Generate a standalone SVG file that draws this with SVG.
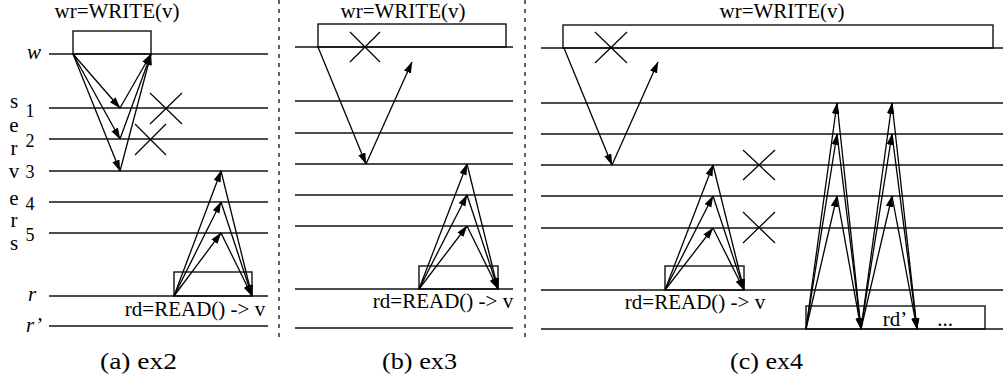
<svg xmlns="http://www.w3.org/2000/svg" width="1003" height="381" viewBox="0 0 1003 381">
<defs>
<marker id="ah" markerUnits="userSpaceOnUse" markerWidth="12" markerHeight="8" refX="11" refY="3.75" orient="auto">
<path d="M0,0 L11.5,3.75 L0,7.5 z" fill="#000"/>
</marker>
<style>
.ln{stroke:#111;stroke-width:1.5;fill:none}
.bx{stroke:#111;stroke-width:1.4;fill:none}
.ar{stroke:#000;stroke-width:1.3;fill:none;marker-end:url(#ah)}
.xm{stroke:#000;stroke-width:1.2;fill:none}
.dv{stroke:#222;stroke-width:1.4;stroke-dasharray:4 5;fill:none}
.t{font-size:21px;fill:#000}
.it{font-size:21px;font-style:italic;fill:#000}
.lb{font-size:21px;fill:#000}
.dg{font-size:18px;fill:#000}
.cap{font-size:24px;fill:#000}
</style>
</defs>
<rect width="1003" height="381" fill="#fff"/>

<g id="dividers">
<line class="dv" x1="279" y1="0" x2="279" y2="338"/>
<line class="dv" x1="525" y1="0" x2="525" y2="338"/>
</g>

<g id="lines-a">
<line class="ln" x1="49" y1="54" x2="268" y2="54"/>
<line class="ln" x1="49" y1="108" x2="268" y2="108"/>
<line class="ln" x1="49" y1="139" x2="268" y2="139"/>
<line class="ln" x1="49" y1="171" x2="268" y2="171"/>
<line class="ln" x1="49" y1="202" x2="268" y2="202"/>
<line class="ln" x1="49" y1="233" x2="268" y2="233"/>
<line class="ln" x1="49" y1="296" x2="268" y2="296"/>
<line class="ln" x1="49" y1="326" x2="268" y2="326"/>
</g>
<g id="lines-b">
<line class="ln" x1="295" y1="47" x2="513" y2="47"/>
<line class="ln" x1="295" y1="101" x2="513" y2="101"/>
<line class="ln" x1="295" y1="133" x2="513" y2="133"/>
<line class="ln" x1="295" y1="164" x2="513" y2="164"/>
<line class="ln" x1="295" y1="195" x2="513" y2="195"/>
<line class="ln" x1="295" y1="226" x2="513" y2="226"/>
<line class="ln" x1="295" y1="289" x2="513" y2="289"/>
<line class="ln" x1="295" y1="328" x2="513" y2="328"/>
</g>
<g id="lines-c">
<line class="ln" x1="541" y1="48" x2="1003" y2="48"/>
<line class="ln" x1="541" y1="103" x2="1003" y2="103"/>
<line class="ln" x1="541" y1="134" x2="1003" y2="134"/>
<line class="ln" x1="541" y1="165" x2="1003" y2="165"/>
<line class="ln" x1="541" y1="196" x2="1003" y2="196"/>
<line class="ln" x1="541" y1="228" x2="1003" y2="228"/>
<line class="ln" x1="541" y1="290" x2="1003" y2="290"/>
<line class="ln" x1="541" y1="329" x2="1003" y2="329"/>
</g>

<g id="labels-a" font-family="Liberation Serif, Times New Roman, serif">
<text class="it" x="34" y="59" text-anchor="middle">w</text>
<text class="it" x="32" y="301" text-anchor="middle">r</text>
<text class="it" x="34" y="332" text-anchor="middle">r’</text>
<text class="lb" x="14" y="108" text-anchor="middle">s</text>
<text class="lb" x="14" y="132" text-anchor="middle">e</text>
<text class="lb" x="14" y="155" text-anchor="middle">r</text>
<text class="lb" x="14" y="178" text-anchor="middle">v</text>
<text class="lb" x="14" y="205" text-anchor="middle">e</text>
<text class="lb" x="14" y="227" text-anchor="middle">r</text>
<text class="lb" x="14" y="250" text-anchor="middle">s</text>
<text class="dg" x="30" y="117" text-anchor="middle">1</text>
<text class="dg" x="30" y="147" text-anchor="middle">2</text>
<text class="dg" x="30" y="178" text-anchor="middle">3</text>
<text class="dg" x="30" y="210" text-anchor="middle">4</text>
<text class="dg" x="30" y="241" text-anchor="middle">5</text>
</g>

<g id="write-a" font-family="Liberation Serif, Times New Roman, serif">
<rect class="bx" x="73" y="31" width="78" height="23"/>
<text class="t" x="117" y="18" text-anchor="middle">wr=WRITE(v)</text>
</g>
<g id="read-a" font-family="Liberation Serif, Times New Roman, serif">
<rect class="bx" x="174" y="272" width="78" height="24"/>
<text class="t" x="195" y="316" text-anchor="middle">rd=READ() -&gt; v</text>
</g>
<g id="write-b" font-family="Liberation Serif, Times New Roman, serif">
<rect class="bx" x="318" y="24" width="188" height="23"/>
<text class="t" x="403" y="18" text-anchor="middle">wr=WRITE(v)</text>
</g>
<g id="read-b" font-family="Liberation Serif, Times New Roman, serif">
<rect class="bx" x="419" y="266" width="79" height="23"/>
<text class="t" x="443" y="308" text-anchor="middle">rd=READ() -&gt; v</text>
</g>
<g id="write-c" font-family="Liberation Serif, Times New Roman, serif">
<rect class="bx" x="563" y="25" width="430" height="23"/>
<text class="t" x="782" y="18" text-anchor="middle">wr=WRITE(v)</text>
</g>
<g id="read-c" font-family="Liberation Serif, Times New Roman, serif">
<rect class="bx" x="665" y="266" width="79" height="24"/>
<text class="t" x="695" y="309" text-anchor="middle">rd=READ() -&gt; v</text>
</g>
<g id="read2-c" font-family="Liberation Serif, Times New Roman, serif">
<rect class="bx" x="806" y="306" width="179" height="23"/>
<text class="t" x="895" y="326" text-anchor="middle">rd’</text>
<text class="t" x="945" y="326" text-anchor="middle">...</text>
</g>

<g id="crosses">
<path class="xm" d="M150,93 L182,124 M182,93 L150,124"/>
<path class="xm" d="M135,124 L166,155 M166,124 L135,155"/>
<path class="xm" d="M350,32 L380,62 M380,32 L350,62"/>
<path class="xm" d="M595,32 L627,63 M627,32 L595,63"/>
<path class="xm" d="M743,150 L775,180 M775,150 L743,180"/>
<path class="xm" d="M743,212 L775,243 M775,212 L743,243"/>
</g>

<g id="connectors">
<line class="ar" x1="73" y1="54" x2="120" y2="108"/>
<line class="ar" x1="73" y1="54" x2="120" y2="139"/>
<line class="ar" x1="73" y1="54" x2="120" y2="171"/>
<line class="ar" x1="120" y1="108" x2="151" y2="54"/>
<line class="ar" x1="120" y1="139" x2="151" y2="54"/>
<line class="ar" x1="120" y1="171" x2="151" y2="54"/>
<line class="ar" x1="174" y1="296" x2="221" y2="171"/>
<line class="ar" x1="174" y1="296" x2="221" y2="202"/>
<line class="ar" x1="174" y1="296" x2="221" y2="233"/>
<line class="ar" x1="221" y1="171" x2="252" y2="296"/>
<line class="ar" x1="221" y1="202" x2="252" y2="296"/>
<line class="ar" x1="221" y1="233" x2="252" y2="296"/>

<line class="ar" x1="318" y1="47" x2="366" y2="164"/>
<line class="ar" x1="366" y1="164" x2="412" y2="62"/>
<line class="ar" x1="419" y1="289" x2="467" y2="164"/>
<line class="ar" x1="419" y1="289" x2="467" y2="195"/>
<line class="ar" x1="419" y1="289" x2="467" y2="226"/>
<line class="ar" x1="467" y1="164" x2="498" y2="289"/>
<line class="ar" x1="467" y1="195" x2="498" y2="289"/>
<line class="ar" x1="467" y1="226" x2="498" y2="289"/>

<line class="ar" x1="564" y1="48" x2="612" y2="165"/>
<line class="ar" x1="612" y1="165" x2="658" y2="62"/>
<line class="ar" x1="665" y1="290" x2="713" y2="165"/>
<line class="ar" x1="665" y1="290" x2="713" y2="196"/>
<line class="ar" x1="665" y1="290" x2="713" y2="228"/>
<line class="ar" x1="713" y1="165" x2="744" y2="290"/>
<line class="ar" x1="713" y1="196" x2="744" y2="290"/>
<line class="ar" x1="713" y1="228" x2="744" y2="290"/>

<line class="ar" x1="806" y1="329" x2="837" y2="103"/>
<line class="ar" x1="806" y1="329" x2="837" y2="134"/>
<line class="ar" x1="806" y1="329" x2="837" y2="196"/>
<line class="ar" x1="837" y1="103" x2="861" y2="329"/>
<line class="ar" x1="837" y1="134" x2="861" y2="329"/>
<line class="ar" x1="837" y1="196" x2="861" y2="329"/>
<line class="ar" x1="861" y1="329" x2="892" y2="103"/>
<line class="ar" x1="861" y1="329" x2="892" y2="134"/>
<line class="ar" x1="861" y1="329" x2="892" y2="196"/>
<line class="ar" x1="892" y1="103" x2="917" y2="329"/>
<line class="ar" x1="892" y1="134" x2="917" y2="329"/>
<line class="ar" x1="892" y1="196" x2="917" y2="329"/>
</g>

<g id="captions" font-family="Liberation Serif, Times New Roman, serif">
<text class="cap" x="100" y="369" textLength="77" lengthAdjust="spacingAndGlyphs">(a) ex2</text>
<text class="cap" x="382" y="369" textLength="75" lengthAdjust="spacingAndGlyphs">(b) ex3</text>
<text class="cap" x="730" y="369" textLength="73" lengthAdjust="spacingAndGlyphs">(c) ex4</text>
</g>
</svg>
